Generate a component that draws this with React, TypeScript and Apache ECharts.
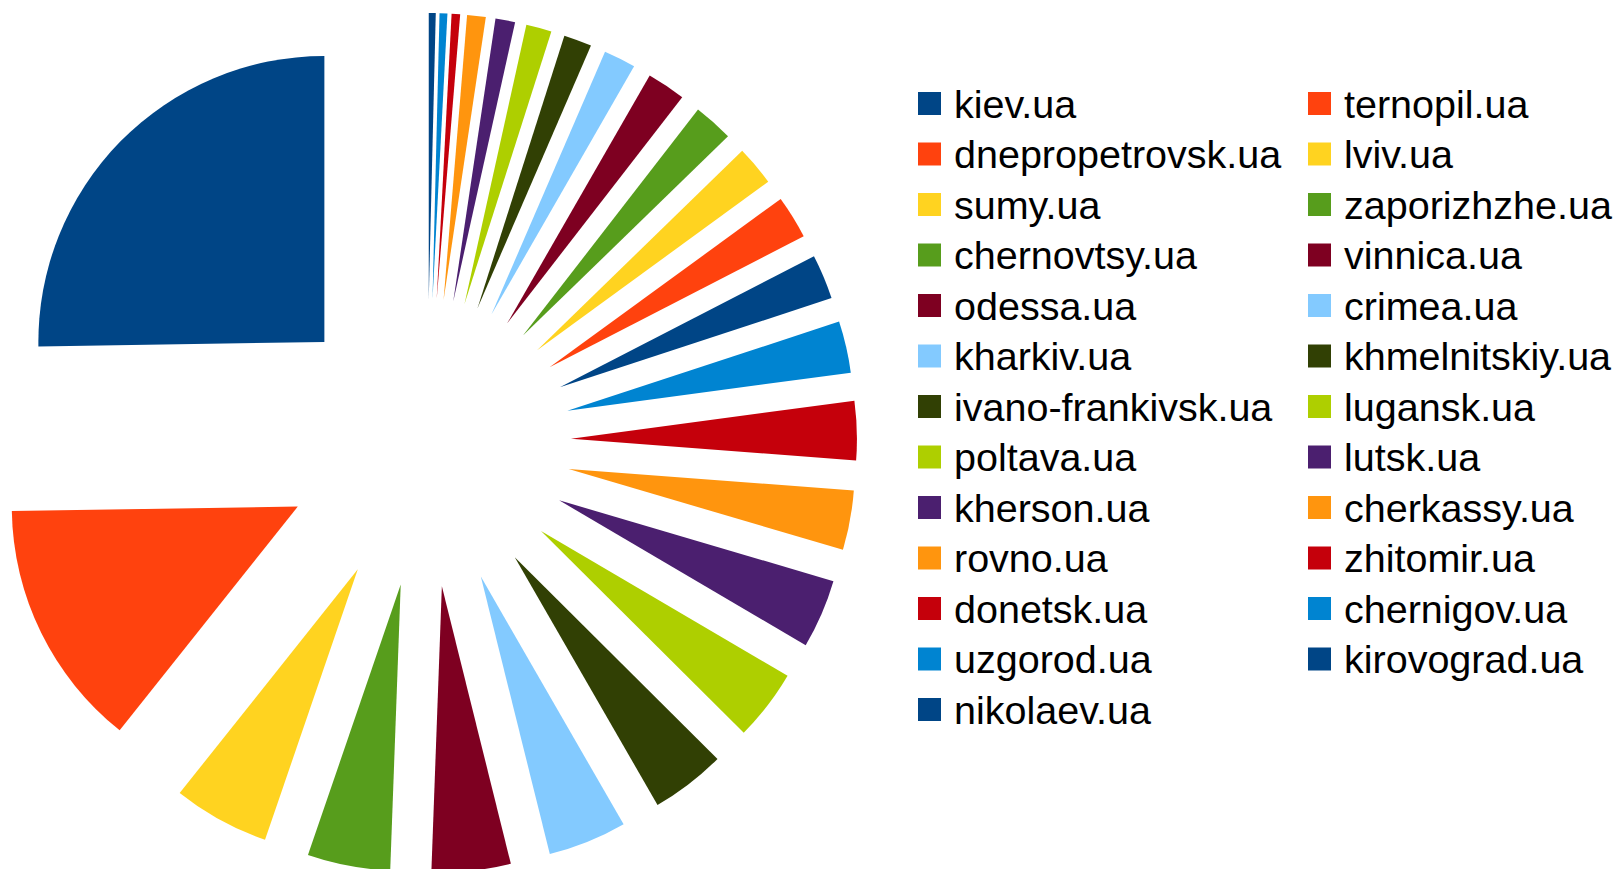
import React, { useEffect, useRef } from "react";
import * as echarts from "echarts";

const names = [
  "kiev.ua", "dnepropetrovsk.ua", "sumy.ua", "chernovtsy.ua", "odessa.ua",
  "kharkiv.ua", "ivano-frankivsk.ua", "poltava.ua", "kherson.ua", "rovno.ua",
  "donetsk.ua", "uzgorod.ua", "nikolaev.ua", "ternopil.ua", "lviv.ua",
  "zaporizhzhe.ua", "vinnica.ua", "crimea.ua", "khmelnitskiy.ua", "lugansk.ua",
  "lutsk.ua", "cherkassy.ua", "zhitomir.ua", "chernigov.ua", "kirovograd.ua",
];

// share in percent
const shares = [
  25.24, 14.04, 5.44, 4.67, 4.46,
  4.44, 4.22, 4.0, 3.89, 3.36,
  3.33, 2.92, 2.53, 2.44, 2.25,
  2.24, 2.18, 1.81, 1.58, 1.44,
  1.11, 1.05, 0.48, 0.44, 0.39,
];

const palette = [
  "#004586", "#ff420e", "#ffd320", "#579d1c", "#7e0021", "#83caff",
  "#314004", "#aecf00", "#4b1f6f", "#ff950e", "#c5000b", "#0084d1",
];

const legendCol1 = names.slice(0, 13);
const legendCol2 = names.slice(13);

export default function App() {
  const ref = useRef<HTMLDivElement>(null);
  useEffect(() => {
    if (!ref.current) return;
    const chart = echarts.init(ref.current, null, { renderer: "svg" });
    const legendBase = {
      orient: "vertical",
      top: 83.5,
      padding: 0,
      itemWidth: 23,
      itemHeight: 23,
      itemGap: 10.5,
      icon: "rect",
      selectedMode: false,
      textStyle: {
        fontSize: 39.5,
        fontFamily: "Liberation Sans, Arial, sans-serif",
        color: "#000",
        padding: [0, 0, 0, 8],
      },
    };
    chart.setOption({
      animation: false,
      color: palette,
      legend: [
        { ...legendBase, left: 918, data: legendCol1 },
        { ...legendBase, left: 1308, data: legendCol2 },
      ],
      series: [
        {
          type: "pie",
          center: [427, 443],
          radius: 286,
          startAngle: 90,
          clockwise: false,
          selectedMode: "multiple",
          selectedOffset: 144,
          avoidLabelOverlap: false,
          label: { show: false },
          labelLine: { show: false },
          itemStyle: { borderWidth: 0 },
          emphasis: { scale: false },
          data: names.map((n, i) => ({ name: n, value: shares[i], selected: true })),
        },
      ],
    });
    return () => chart.dispose();
  }, []);
  return (
    <div
      ref={ref}
      style={{ position: "fixed", left: 0, top: 0, width: 1619, height: 869, background: "#fff" }}
    />
  );
}
